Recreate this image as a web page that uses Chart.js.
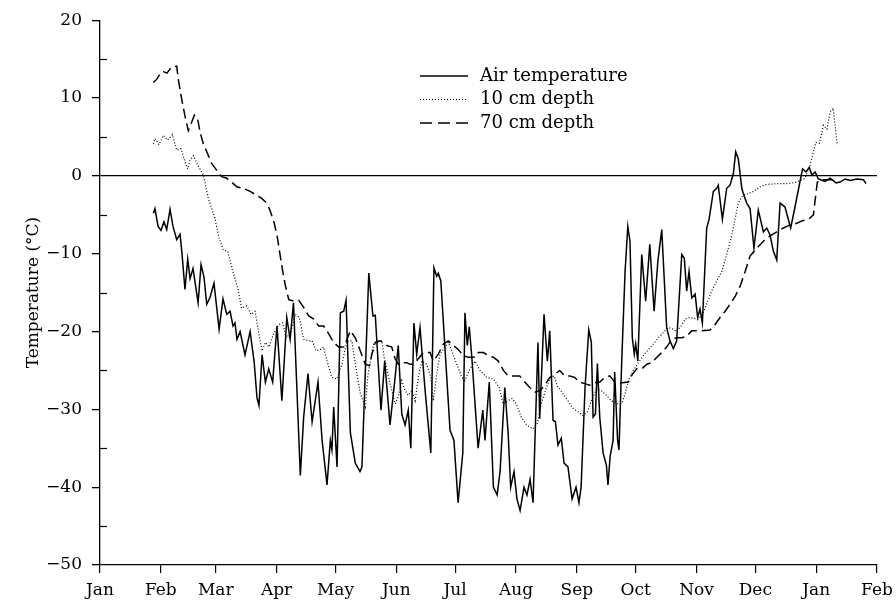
<!DOCTYPE html>
<html>
<head>
<meta charset="utf-8">
<script src="https://cdn.jsdelivr.net/npm/chart.js@4/dist/chart.umd.min.js"></script>
<style>
  html, body { margin: 0; padding: 0; background: #fff; }
  #wrap { width: 896px; height: 604px; }
</style>
</head>
<body>
<div id="wrap"><canvas id="tempChart" width="896" height="604"></canvas></div>
<script>
// ========== DATA ==========
// x = day counted from 1 Jan, y = temperature in °C
const monthStarts = [0, 31, 59, 90, 120, 151, 181, 212, 243, 273, 304, 334, 365, 396];
const monthLabels = ['Jan', 'Feb', 'Mar', 'Apr', 'May', 'Jun', 'Jul', 'Aug', 'Sep', 'Oct', 'Nov', 'Dec', 'Jan', 'Feb'];
const yTicks = [-50, -40, -30, -20, -10, 0, 10, 20];

const airTemp = [
  [27.2,-4.8],[28.0,-4.2],[29.6,-6.5],[31.1,-7],[32.6,-5.9],[34.0,-6.9],[35.7,-4.3],[37.2,-6.5],[39.1,-8.2],[40.8,-7.5],
  [41.8,-10],[43.3,-14.6],[44.7,-10.7],[45.9,-13.2],[47.4,-11.9],[50.0,-16.3],[51.5,-11.4],[53.0,-13],[54.4,-16.5],[56.1,-15.6],
  [58.1,-13.8],[60.7,-19.7],[62.7,-15.8],[64.6,-17.8],[66.3,-17.4],[67.8,-19.3],[68.8,-18.9],[69.8,-21],[71.4,-20],[73.9,-23],
  [76.5,-20],[78.6,-24],[80.0,-28.5],[81.0,-29.5],[82.6,-23],[84.3,-26.5],[86.0,-24.8],[88.0,-26.5],[90.2,-19.3],[92.7,-28.9],
  [95.2,-18.2],[96.9,-21],[98.6,-16.3],[102.1,-38.5],[103.8,-31],[106.0,-25.4],[108.1,-31.6],[111.1,-26.5],[113.2,-34],[115.7,-39.7],
  [117.4,-34],[118.2,-35.2],[119.1,-29.7],[120.8,-37.4],[122.5,-17.6],[124.2,-17.4],[125.4,-16],[127.6,-33],[130.1,-36.9],[132.5,-38],
  [133.5,-37.4],[137.0,-12.5],[139.1,-18],[140.3,-17.9],[143.2,-30.1],[145.1,-23.8],[147.8,-32],[150.4,-25.9],[152.0,-21.8],[153.8,-30.6],
  [155.5,-32],[157.1,-30.1],[158.4,-35],[160.0,-18.9],[161.4,-22.9],[163.1,-19.5],[165.7,-27.6],[168.6,-35.6],[170.2,-11.8],[171.6,-12.9],
  [172.4,-12.5],[173.7,-13.5],[178.4,-32.7],[180.4,-34],[182.5,-42],[184.9,-35.6],[186.0,-17.6],[187.2,-21.8],[188.2,-19.4],[189.5,-23.3],
  [192.7,-35],[195.1,-30.1],[196.2,-34],[198.4,-26.5],[200.5,-40],[202.4,-41],[203.9,-38],[206.3,-27.2],[208.0,-33],[209.3,-40],
  [211.0,-38],[212.5,-41.5],[214.1,-43],[216.1,-40],[217.6,-41],[219.2,-39],[220.7,-42],[223.2,-21.4],[224.1,-31.2],[226.3,-17.8],
  [228.0,-23.8],[229.2,-19.9],[230.9,-31.4],[232.1,-31.6],[233.4,-34.6],[235.1,-33.7],[236.5,-36.9],[238.5,-37.4],[240.6,-41.5],[242.6,-40],
  [244.1,-42],[245.2,-40],[247.2,-27.2],[249.1,-19.8],[250.4,-21.4],[251.3,-31],[252.5,-30.6],[253.5,-24.1],[254.7,-31],[256.4,-35.6],
  [258.1,-37.2],[258.9,-39.7],[260.0,-36],[261.5,-34],[262.3,-25.2],[263.8,-34],[264.5,-35.2],[265.9,-23.8],[267.6,-12.3],[269.0,-6.5],
  [270.1,-8.4],[271.3,-20.8],[272.3,-22.9],[273.0,-21.6],[274.1,-23.8],[276.1,-10.1],[278.1,-16.1],[280.2,-8.8],[282.4,-17.4],[284.3,-11],
  [286.3,-6.9],[288.8,-19.5],[290.5,-21.2],[292.2,-22.2],[293.9,-21.2],[296.5,-10.1],[297.8,-10.6],[299.0,-14.8],[300.2,-12.3],[301.6,-15.7],
  [303.3,-15.2],[304.6,-18.2],[305.8,-17.1],[307.0,-18.9],[309.2,-6.7],[310.4,-5.6],[312.6,-2],[314.3,-1.6],[315.1,-1.2],[317.2,-5.6],
  [319.4,-1.6],[321.1,-1.2],[322.8,0.3],[324.0,3.1],[325.3,2.2],[327.1,-1.6],[327.9,-2.3],[329.6,-3.5],[331.3,-4.2],[333.3,-9.3],
  [335.5,-4.4],[338.1,-7.2],[339.8,-6.7],[341.5,-7.6],[343.2,-9.7],[344.9,-10.8],[346.6,-3.5],[349.1,-4],[352.0,-6.7],[354.2,-4],
  [357.1,-0.3],[358.1,0.9],[359.8,0.5],[361.5,1.1],[362.8,0.1],[364.5,0.5],[366.1,-0.4],[369.5,-0.7],[372.1,-0.3],[375.1,-0.9],
  [377.2,-0.8],[379.7,-0.4],[382.3,-0.6],[385.7,-0.4],[389.1,-0.5],[390.4,-1]
];

const depth10 = [
  [27.2,4.1],[28.0,4.8],[30.1,4],[32.3,5.2],[34.5,4.6],[36.9,5.3],[39.1,3.3],[41.3,3.5],[43.3,1.8],[44.7,0.9],
  [45.9,2],[47.6,2.6],[49.8,1.4],[52.7,0.1],[55.2,-2.9],[58.6,-5.5],[60.7,-8],[62.8,-9.5],[65.1,-9.7],[67.4,-12],
  [70.2,-14.4],[72.2,-17],[74.8,-16.7],[77.0,-17.8],[79.0,-17.4],[80.7,-19.9],[82.6,-22.5],[84.3,-21.4],[86.0,-22],[88.5,-20.3],
  [91.1,-19.1],[93.1,-18.9],[94.8,-20.8],[97.0,-20.3],[99.5,-17.8],[101.6,-18.2],[103.8,-21],[106.4,-21.2],[108.1,-21.2],[110.1,-22.5],
  [112.3,-22.3],[114.0,-22],[115.7,-23.8],[118.2,-25.9],[120.8,-26.1],[123.3,-24.2],[125.9,-21.2],[128.4,-21.2],[130.1,-24.2],[132.7,-28],
  [135.2,-29.7],[136.6,-25.5],[139.5,-21.6],[141.2,-21.2],[143.7,-21.2],[144.8,-23.3],[147.5,-26.3],[150.4,-29.3],[152.0,-28.4],[153.8,-26.3],
  [155.5,-27.6],[157.1,-28.2],[158.9,-27.6],[160.6,-28.9],[162.2,-25.9],[164.0,-23.8],[166.5,-24.2],[168.6,-25.9],[169.9,-28.9],[171.6,-25.5],
  [173.3,-22.9],[175.8,-22],[177.5,-21.4],[179.3,-22.5],[181.8,-24.2],[184.4,-25.9],[186.0,-26.3],[188.2,-25],[191.1,-23.8],[193.7,-25],
  [197.1,-25.9],[200.5,-26.1],[203.5,-27.2],[205.4,-29.3],[208.0,-28.9],[210.0,-28.6],[212.2,-29.3],[214.7,-31],[217.8,-32.1],[220.7,-32.5],
  [222.9,-31.8],[224.9,-29.3],[227.5,-27.2],[229.7,-25.9],[231.4,-25.7],[233.1,-27],[236.0,-28],[238.5,-28.9],[241.1,-29.9],[243.6,-30.3],
  [246.2,-30.8],[248.4,-30.3],[250.4,-28.9],[253.0,-27.4],[255.5,-27.6],[258.1,-28.2],[260.6,-28.9],[263.5,-29.3],[266.1,-29.2],[267.6,-28],
  [269.3,-26.3],[271.8,-25],[274.4,-24],[276.9,-23.1],[279.5,-22.3],[282.0,-21.6],[284.6,-20.8],[288.0,-19.9],[289.7,-19.5],[292.2,-19.7],
  [293.9,-20],[296.1,-19.3],[298.2,-18.4],[300.2,-18.2],[302.4,-18.3],[304.9,-18.4],[307.0,-17.8],[309.2,-16.5],[311.7,-14.8],[314.3,-13.5],
  [316.9,-12.3],[319.4,-10.1],[322.0,-7.6],[323.7,-5.5],[325.3,-3.5],[327.1,-2.7],[328.2,-2.4],[330.4,-2.3],[333.0,-2],[336.4,-1.4],
  [339.8,-1.1],[344.9,-1],[350.8,-1],[355.1,-0.8],[359.3,-0.3],[361.9,1.4],[363.6,3.1],[364.9,4.3],[366.6,4.2],[367.9,5.6],
  [368.7,6.5],[370.5,6],[372.1,8.2],[373.7,8.7],[374.6,6.5],[375.8,3.9]
];

const depth70 = [
  [27.2,12],[28.9,12.4],[30.6,13.1],[32.3,13.4],[34.1,13.2],[36.5,14],[39.1,14.1],[39.9,12.4],[41.6,9.9],[43.3,7.7],
  [45.0,5.8],[46.7,6.9],[48.1,7.8],[49.8,7.3],[51.0,5.6],[52.7,4.1],[54.4,3.1],[56.9,1.6],[59.5,0.7],[62.0,-0.1],
  [64.6,-0.3],[67.1,-0.8],[69.7,-1.4],[73.0,-1.6],[76.5,-2],[79.9,-2.5],[82.4,-2.9],[85.0,-3.5],[86.6,-4.4],[88.7,-6],
  [90.2,-7.6],[92.8,-11.8],[94.4,-14],[96.2,-15.9],[98.7,-16.1],[101.3,-16],[103.8,-16.9],[106.4,-18],[108.9,-18.4],[111.5,-19.3],
  [114.0,-19.3],[116.6,-20.3],[119.1,-21.4],[121.7,-22],[124.2,-22],[125.9,-21],[127.6,-19.9],[130.1,-20.8],[132.7,-22.5],[135.2,-24.2],
  [137.3,-24.4],[138.6,-22.9],[140.3,-21.4],[142.9,-21.2],[146.1,-21.8],[148.7,-22],[150.4,-23.5],[152.0,-24.2],[154.6,-24],[156.3,-24],
  [158.0,-24.2],[160.0,-24.2],[162.2,-23.5],[164.8,-22.7],[168.2,-22.7],[169.9,-23.8],[172.4,-22.9],[175.0,-21.6],[177.5,-21.2],[180.1,-21.8],
  [182.6,-22.3],[185.2,-23.1],[187.7,-23.3],[191.1,-23.3],[192.8,-22.7],[195.4,-22.7],[197.9,-23.1],[200.5,-23.3],[203.0,-23.8],[205.6,-25],
  [208.0,-25.7],[210.5,-25.7],[213.9,-25.7],[216.5,-26.5],[219.0,-27.2],[221.6,-27.8],[224.1,-27.6],[226.7,-26.9],[229.2,-25.9],[231.8,-25.5],
  [234.3,-25],[236.8,-25.7],[239.4,-25.7],[241.9,-25.9],[244.5,-26.5],[247.0,-26.7],[249.6,-26.9],[252.1,-26.6],[254.7,-26.5],[257.2,-25.9],
  [259.8,-25.7],[262.3,-26.5],[265.0,-26.6],[269.3,-26.5],[271.3,-25.5],[273.6,-24.8],[276.1,-24.8],[278.7,-24.2],[281.2,-24],[283.8,-23.3],
  [286.3,-22.7],[288.8,-22],[291.4,-21],[293.9,-20.8],[296.5,-20.8],[299.0,-20.6],[301.6,-19.9],[306.7,-19.9],[310.9,-19.8],[313.5,-19.1],
  [316.0,-18.2],[318.6,-17.4],[321.1,-16.5],[323.7,-15.5],[326.2,-14.2],[328.8,-12.3],[331.3,-10.3],[334.7,-9.3],[338.1,-8.4],[341.5,-7.7],
  [344.9,-7.2],[348.3,-6.7],[351.7,-6.3],[355.1,-6.1],[357.6,-5.8],[361.0,-5.6],[363.6,-5],[365.0,-2],[365.6,-0.8],[368.7,-0.5],
  [372.1,-0.5],[376.2,-0.5]
];

const seriesNames = ['Air temperature', '10 cm depth', '70 cm depth'];

// ========== HELPERS ==========
const FONT = 'DejaVu Serif';
const toPoints = arr => arr.map(p => ({ x: p[0], y: p[1] }));
const minus = v => (v < 0 ? '\u2212' + Math.abs(v) : String(v));

// small inward ticks at the 5s
const minorTicks = {
  id: 'minorTicks',
  afterDraw(chart) {
    const { ctx, scales: { y }, chartArea } = chart;
    ctx.save();
    ctx.strokeStyle = '#000';
    ctx.lineWidth = 1.2;
    for (let v = -45; v < 20; v += 10) {
      const py = Math.round(y.getPixelForValue(v)) + 0.5;
      ctx.beginPath();
      ctx.moveTo(chartArea.left, py);
      ctx.lineTo(chartArea.left + 7, py);
      ctx.stroke();
    }
    ctx.restore();
  }
};

// legend drawn inside the plot, top middle
const innerLegend = {
  id: 'innerLegend',
  afterDraw(chart) {
    const ctx = chart.ctx;
    const rows = [76, 99.5, 123];
    ctx.save();
    ctx.font = '18px "' + FONT + '"';
    ctx.fillStyle = '#000';
    ctx.textBaseline = 'middle';
    chart.data.datasets.forEach((ds, i) => {
      ctx.strokeStyle = '#000';
      ctx.lineWidth = ds.borderWidth;
      ctx.setLineDash(i === 2 ? [12, 6] : (ds.borderDash || []));
      ctx.beginPath();
      ctx.moveTo(420, rows[i]);
      ctx.lineTo(468, rows[i]);
      ctx.stroke();
      ctx.setLineDash([]);
      ctx.fillText(ds.label, 480, rows[i]);
    });
    ctx.restore();
  }
};

// ========== CHART ==========
new Chart(document.getElementById('tempChart'), {
  type: 'line',
  data: {
    datasets: [
      { label: seriesNames[0], data: toPoints(airTemp), borderColor: '#000', borderWidth: 1.5, pointRadius: 0, tension: 0 },
      { label: seriesNames[1], data: toPoints(depth10), borderColor: '#000', borderWidth: 1.2, borderDash: [1, 2], pointRadius: 0, tension: 0 },
      { label: seriesNames[2], data: toPoints(depth70), borderColor: '#000', borderWidth: 1.5, borderDash: [10, 5], pointRadius: 0, tension: 0 }
    ]
  },
  options: {
    responsive: false,
    animation: false,
    layout: { padding: { top: 17, right: 19, bottom: 0, left: 0 } },
    plugins: { legend: { display: false }, tooltip: { enabled: false } },
    scales: {
      x: {
        type: 'linear',
        min: 0,
        max: 396,
        afterBuildTicks: s => { s.ticks = monthStarts.map(v => ({ value: v })); },
        afterFit: s => { s.height = 39; s.paddingRight = 0; },
        ticks: {
          autoSkip: false,
          maxRotation: 0,
          padding: 7,
          color: '#000',
          font: { family: FONT, size: 17 },
          callback: (v, i) => monthLabels[i]
        },
        grid: { drawOnChartArea: false, tickLength: 8, tickColor: '#000', lineWidth: 1.2 },
        border: { color: '#000', width: 1.3 }
      },
      y: {
        min: -50,
        max: 20,
        afterBuildTicks: s => { s.ticks = yTicks.map(v => ({ value: v })); },
        afterFit: s => { s.width = 100; },
        ticks: {
          padding: 10,
          color: '#000',
          font: { family: FONT, size: 17 },
          callback: v => minus(v)
        },
        grid: {
          drawOnChartArea: true,
          color: c => (c.tick && c.tick.value === 0 ? '#000' : 'rgba(0,0,0,0)'),
          tickColor: '#000',
          tickLength: 8,
          lineWidth: 1.3
        },
        border: { color: '#000', width: 1.3 },
        title: {
          display: true,
          text: 'Temperature (°C)',
          color: '#000',
          font: { family: FONT, size: 17 },
          padding: { top: 23, bottom: 0 }
        }
      }
    }
  },
  plugins: [minorTicks, innerLegend]
});
</script>
</body>
</html>
